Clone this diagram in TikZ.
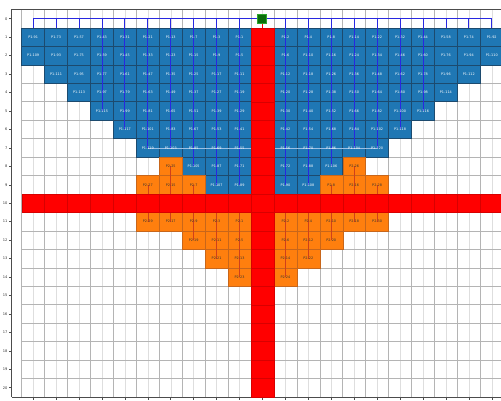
\documentclass[tikz,border=0pt]{standalone}
\usepackage{fontspec}
\setmainfont{DejaVu Sans}
\definecolor{pblue}{HTML}{1F77B4}
\definecolor{porange}{HTML}{FF7F0E}
\definecolor{bedge}{HTML}{1C4A6E}
\definecolor{oedge}{HTML}{C8661A}
\definecolor{redge}{HTML}{D80000}
\definecolor{pipeb}{HTML}{2828E0}
\definecolor{pipeh}{HTML}{9CC0E4}
\definecolor{pipeo}{HTML}{D0401A}
\definecolor{gmaj}{HTML}{B4B4B4}
\definecolor{gmin}{HTML}{DEDEDE}
\definecolor{srcfill}{HTML}{0B6E0B}
\definecolor{srcedge}{HTML}{2EA82E}
\def\bluecells{1/0/91,1/1/73,1/2/57,1/3/43,1/4/31,1/5/21,1/6/13,1/7/7,1/8/3,1/9/1,
2/0/109,2/1/93,2/2/75,2/3/59,2/4/45,2/5/33,2/6/23,2/7/15,2/8/9,2/9/5,
3/1/111,3/2/95,3/3/77,3/4/61,3/5/47,3/6/35,3/7/25,3/8/17,3/9/11,
4/2/113,4/3/97,4/4/79,4/5/63,4/6/49,4/7/37,4/8/27,4/9/19,
5/3/115,5/4/99,5/5/81,5/6/65,5/7/51,5/8/39,5/9/29,
6/4/117,6/5/101,6/6/83,6/7/67,6/8/53,6/9/41,
7/5/119,7/6/103,7/7/85,7/8/69,7/9/55,
8/7/105,8/8/87,8/9/71,
9/8/107,9/9/89,
1/11/2,1/12/4,1/13/8,1/14/14,1/15/22,1/16/32,1/17/44,1/18/58,1/19/74,1/20/92,
2/11/6,2/12/10,2/13/16,2/14/24,2/15/34,2/16/46,2/17/60,2/18/76,2/19/94,2/20/110,
3/11/12,3/12/18,3/13/26,3/14/36,3/15/48,3/16/62,3/17/78,3/18/96,3/19/112,
4/11/20,4/12/28,4/13/38,4/14/50,4/15/64,4/16/80,4/17/98,4/18/114,
5/11/30,5/12/40,5/13/52,5/14/66,5/15/82,5/16/100,5/17/116,
6/11/42,6/12/54,6/13/68,6/14/84,6/15/102,6/16/118,
7/11/56,7/12/70,7/13/86,7/14/104,7/15/120,
8/11/72,8/12/88,8/13/106,
9/11/90,9/12/108}
\def\orangecells{8/6/25,9/5/27,9/6/15,9/7/7,11/5/29,11/6/17,11/7/9,11/8/3,11/9/1,
12/7/19,12/8/11,12/9/5,13/8/21,13/9/13,14/9/23,
8/14/26,9/15/28,9/14/16,9/13/8,11/15/30,11/14/18,11/13/10,11/12/4,11/11/2,
12/13/20,12/12/12,12/11/6,13/12/22,13/11/14,14/11/24}
\begin{document}
\begin{tikzpicture}[x=22.93pt,y=-18.45pt,
  gbound/.style={draw=gmaj,line width=0.5pt},
  gcen/.style={draw=gmin,line width=0.4pt},
  spine/.style={draw=black!70,line width=0.5pt},
  cellbase/.style={rectangle,minimum width=22.93pt,minimum height=18.45pt,inner sep=0pt},
  bcell/.style={cellbase,fill=pblue,draw=bedge,line width=0.5pt},
  ocell/.style={cellbase,fill=porange,draw=oedge,line width=0.4pt},
  rcell/.style={cellbase,fill=red,draw=redge,line width=0.4pt},
  blab/.style={text=white,font=\fontsize{3.4}{4}\selectfont,inner sep=0pt},
  olab/.style={text=black!80,font=\fontsize{3.4}{4}\selectfont,inner sep=0pt},
  ylab/.style={text=black!80,font=\fontsize{3.6}{4}\selectfont,anchor=east,inner sep=0pt},
  bpipe/.style={draw=pipeb,line width=0.8pt},
  hpipe/.style={draw=pipeh,line width=0.4pt},
  opipe/.style={draw=pipeo,line width=0.6pt},
  srcbox/.style={rectangle,minimum size=9pt,inner sep=0pt,fill=srcfill,draw=srcedge,line width=1pt}]
\useasboundingbox (0pt,0pt) rectangle (501pt,-401pt);
\clip (0pt,0pt) rectangle (501pt,-401pt);
\fill[white] (0pt,0pt) rectangle (501pt,-401pt);
\begin{scope}[shift={(21.7pt,-9.5pt)}]
% grid
\foreach \c in {0,...,20} \draw[gcen] (\c+.5,0) -- (\c+.5,21);
\foreach \c in {0,...,21} \draw[gbound] (\c,0) -- (\c,21);
\foreach \r in {0,...,21} \draw[gbound] (0,\r) -- (21,\r);
% spines and ticks
\draw[spine] (-10pt,0pt) -- (-10pt,-387.45pt);
\draw[spine] (-10pt,0pt) -- (490pt,0pt);
\draw[spine] (-10pt,-387.45pt) -- (490pt,-387.45pt);
\foreach \r in {0,...,20} {
  \draw[spine] ([xshift=-10pt]0,\r+.5) -- ([xshift=-12.5pt]0,\r+.5);
  \node[ylab] (yl\r) at ([xshift=-14pt]0,\r+.5) {\r};
}
\foreach \c in {0,...,20} \draw[spine] (\c+.5,21) -- ([yshift=-3pt]\c+.5,21);
% cells
\foreach \r/\c/\n in \bluecells {\node[bcell] (b\r-\c) at (\c+.5,\r+.5) {};}
\foreach \r/\c/\n in \orangecells {\node[ocell] (o\r-\c) at (\c+.5,\r+.5) {};}
% pipes
\foreach \c in {0,...,20} \coordinate (h\c) at (\c+.5,.5);
\foreach \c in {0,...,20} \coordinate (m\c) at (\c+.5,10.5);
\draw[bpipe] (h0) -- (h20);
\foreach \c in {0,1,2,18,19,20} \draw[bpipe] (h\c) -- (b1-\c.north);
\foreach \c/\r in {3/5,4/6,5/7,6/7,7/8,8/9,9/9,11/9,12/9,13/8,14/7,15/7,16/6,17/5}
  \draw[bpipe] (h\c) -- (b\r-\c.center);
\draw[hpipe] (b7-5.center) -- (b7-15.center);
\foreach \a/\b in {o9-5/o11-5,o8-6/o11-6,o9-7/o12-7,m8/o13-8,m9/o14-9,
                   m11/o14-11,m12/o13-12,o9-13/o12-13,o8-14/o11-14,o9-15/o11-15}
  \draw[opipe] (\a.center) -- (\b.center);
% labels
\foreach \r/\c/\n in \bluecells {\node[blab] (tb\r-\c) at (b\r-\c) {P1-\n};}
\foreach \r/\c/\n in \orangecells {\node[olab] (to\r-\c) at (o\r-\c) {P2-\n};}
% red cross
\foreach \r in {1,...,20} \node[rcell] (rc\r) at (10.5,\r+.5) {};
\foreach \c in {0,...,9,11,12,...,20} \node[rcell] (rr\c) at (\c+.5,10.5) {};
% source
\node[srcbox] (src) at (10.5,.5) {};
\draw[red,line width=0.8pt] (src.south) -- (rc1.north);
\end{scope}
\end{tikzpicture}
\end{document}
